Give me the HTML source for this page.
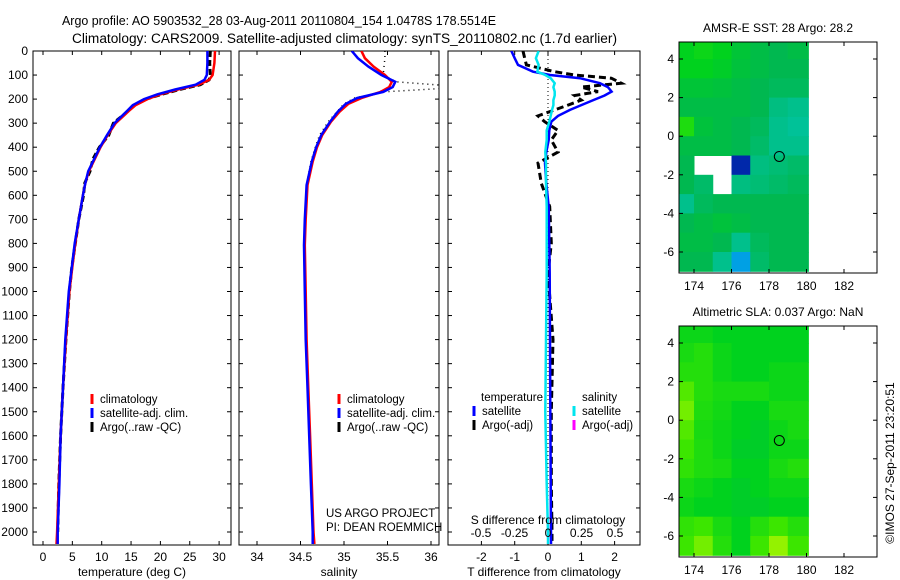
<!DOCTYPE html>
<html><head><meta charset="utf-8"><style>
body{margin:0;background:#fff;}
svg{display:block;font-family:"Liberation Sans",sans-serif;}
text{fill:#000;}
</style></head><body>
<svg id="chart" width="900" height="580" viewBox="0 0 900 580"></svg>
<script>
// ---- data ----
const depthTicks=[0,100,200,300,400,500,600,700,800,900,1000,1100,1200,1300,1400,1500,1600,1700,1800,1900,2000];
const tempTicks=[0,5,10,15,20,25,30];
const salTicks=[34,34.5,35,35.5,36];
const dtTicks=[-2,-1,0,1,2];
const dsTicks=[-0.5,-0.25,0,0.25,0.5];
const lonTicks=[174,176,178,180,182];
const latTicks=[4,2,0,-2,-4,-6];

const tDepth=[0,50,100,120,140,160,180,200,225,250,300,350,400,450,500,550,600,700,800,900,1000,1200,1400,1600,1800,2000,2050];
const tClim=[29.3,29.2,28.9,28.3,26.5,23,20,17.8,15.8,14.6,12.4,11.0,9.8,8.8,7.8,7.2,6.8,6.1,5.5,5.0,4.5,3.9,3.4,3.0,2.7,2.4,2.3];
const tSat=[28.0,28.0,27.9,27.5,26.0,22.5,19.5,17.2,15.3,14.3,12.2,10.9,9.7,8.7,7.7,7.2,6.8,6.1,5.4,4.9,4.4,3.8,3.4,3.0,2.8,2.5,2.5];
const tArgo=[28.5,28.4,28.5,28.3,26.8,23.3,20.2,17.6,15.6,14.5,12.0,11.2,9.6,8.5,8.0,7.1,6.9,6.1,5.5,4.9,4.5,3.9,3.4,3.0,2.7,2.5];

const sDepth=[0,30,65,100,128,150,170,196,220,252,294,349,400,460,557,700,807,1000,1200,1400,1600,1800,2000,2050];
const sClim=[35.2,35.24,35.34,35.47,35.55,35.52,35.42,35.2,35.05,34.95,34.85,34.75,34.69,34.64,34.58,34.56,34.55,34.56,34.57,34.59,34.61,34.63,34.65,34.66];
const sSat=[35.09,35.16,35.28,35.43,35.59,35.56,35.45,35.15,35.02,34.93,34.84,34.74,34.68,34.63,34.57,34.55,34.54,34.55,34.56,34.58,34.6,34.62,34.64,34.64];
const sArgo=[35.47,35.47,35.46,35.45,35.6,36.4,35.45,35.12,35.0,34.92,34.82,34.72,34.67,34.62,34.57,34.55,34.55,34.56,34.57,34.59,34.61,34.63,34.65];

const dDepth=[0,30,58,86,100,113,134,150,169,185,204,225,245,270,294,330,370,420,466,550,647,800,924,1200,1500,1800,2000,2050];
const dtSat=[-1.1,-1.0,-0.9,-0.45,0.06,0.96,1.56,1.8,1.91,1.7,1.36,1.0,0.66,0.3,0.1,0.04,0.02,-0.05,-0.09,-0.05,0.02,0.04,0.05,0.06,0.07,0.08,0.09,0.09];
const dsSat=[-0.07,-0.09,-0.07,-0.08,-0.02,0.02,0.05,0.04,0.05,0.05,0.04,0.04,0.03,0.02,0.01,-0.01,-0.01,-0.02,-0.015,-0.015,-0.01,-0.01,-0.01,-0.015,-0.02,-0.01,0.0,0.0];
const dtArgo=[-0.75,-0.7,-0.65,0.2,0.8,1.9,2.2,1.0,1.5,0.8,1.0,0.6,0.2,-0.3,-0.1,0.3,0.1,0.3,-0.3,-0.2,0.05,0.1,0.0,0.15,0.1,0.1,0.12,0.12];

const mapLons=[173,174,175,176,177,178,179];
const mapLats=[5,4,3,2,1,0,-1,-2,-3,-4,-5,-6];
const sstGrid=[
[0.8,0.82,0.8,0.75,0.72,0.7,0.72],
[0.8,0.8,0.78,0.74,0.72,0.7,0.7],
[0.75,0.75,0.74,0.72,0.7,0.68,0.68],
[0.72,0.72,0.72,0.72,0.7,0.62,0.6],
[0.85,0.74,0.72,0.7,0.68,0.6,0.58],
[0.72,0.72,0.72,0.7,0.66,0.6,0.6],
[0.7,null,null,0.1,0.62,0.64,0.66],
[0.7,0.66,null,0.62,0.64,0.66,0.68],
[0.6,0.68,0.7,0.7,0.7,0.7,0.7],
[0.7,0.72,0.74,0.72,0.7,0.7,0.7],
[0.72,0.72,0.7,0.6,0.68,0.7,0.7],
[0.7,0.7,0.6,0.4,0.66,0.7,0.7]];
const slaGrid=[
[0.82,0.82,0.8,0.8,0.8,0.8,0.8],
[0.84,0.86,0.82,0.8,0.8,0.8,0.8],
[0.86,0.86,0.82,0.8,0.8,0.82,0.82],
[0.92,0.86,0.84,0.84,0.84,0.82,0.82],
[0.95,0.85,0.83,0.8,0.8,0.84,0.84],
[0.92,0.84,0.82,0.8,0.78,0.82,0.84],
[0.9,0.85,0.82,0.78,0.78,0.82,0.82],
[0.88,0.85,0.84,0.8,0.8,0.84,0.86],
[0.84,0.82,0.8,0.78,0.8,0.82,0.82],
[0.82,0.8,0.8,0.78,0.78,0.8,0.8],
[0.88,0.9,0.84,0.8,0.86,0.9,0.86],
[0.9,0.95,0.86,0.8,0.9,0.98,0.9]];
const floatLon=178.55, floatLat=-1.05;

// ---- scales ----
const NS='http://www.w3.org/2000/svg';
const svg=document.getElementById('chart');
const yD=d=>51+d*0.2405;
const xT=t=>43+t*5.87;
const xS=s=>257+(s-34)*87;
const xDT=t=>548+t*33.3;
const xDS=s=>548+s*134;
const xLon=l=>694+(l-174)*18.75;
const yLat1=l=>59+(4-l)*19.3;
const yLat2=l=>343+(4-l)*19.3;

function el(tag,attrs,parent){const e=document.createElementNS(NS,tag);for(const k in attrs)e.setAttribute(k,attrs[k]);(parent||svg).appendChild(e);return e;}
function txt(x,y,s,anchor,size,parent){const t=el('text',{x:x,y:y,'font-size':size||12,'text-anchor':anchor||'start'},parent);t.textContent=s;return t;}

const defs=el('defs',{});
function clip(id,x,y,w,h){const c=el('clipPath',{id:id},defs);el('rect',{x:x,y:y,width:w,height:h},c);}
clip('c1',33,51,198,494);clip('c2',239,51,200,494);clip('c3',448,51,192,494);
clip('m1',679,42,130,231);clip('m2',679,326,130,231);

let t;
t=txt(62,25,'Argo profile: AO 5903532_28 03-Aug-2011 20110804_154 1.0478S 178.5514E','start',13);
t.setAttribute('textLength','434');t.setAttribute('lengthAdjust','spacingAndGlyphs');

t=txt(72,43,'Climatology: CARS2009. Satellite-adjusted climatology: synTS_20110802.nc (1.7d earlier)','start',13.5);
t.setAttribute('textLength','545');t.setAttribute('lengthAdjust','spacingAndGlyphs');


function line(xs,ys,color,w,dash,clipId,name){
  let d='';for(let i=0;i<xs.length;i++)d+=(i?'L':'M')+xs[i].toFixed(1)+' '+ys[i].toFixed(1);
  const p=el('path',{d:d,fill:'none',stroke:color,'stroke-width':w,'clip-path':'url(#'+clipId+')'});
  if(dash)p.setAttribute('stroke-dasharray',dash);
  
  
  return p;
}

function panel(x0,x1,name,xTicks,xf,xlabelText,yLabels){
  const g=el('g',{});
  
  
  el('rect',{x:x0,y:51,width:x1-x0,height:494,fill:'none',stroke:'#000','stroke-width':1},g);
  depthTicks.forEach(d=>{const y=yD(d);
    el('line',{x1:x0,x2:x0+4,y1:y,y2:y,stroke:'#000'},g);el('line',{x1:x1-4,x2:x1,y1:y,y2:y,stroke:'#000'},g);
    if(yLabels){txt(28,y+4,String(d),'end',12,g);}});
  xTicks.forEach(v=>{const x=xf(v);
    el('line',{x1:x,x2:x,y1:545,y2:541,stroke:'#000'},g);el('line',{x1:x,x2:x,y1:51,y2:55,stroke:'#000'},g);
    txt(x,561,String(v),'middle',12,g);});
  const xl=txt((x0+x1)/2,576,xlabelText,'middle',12,g);
  
  return g;
}
panel(33,231,'temperature-panel',tempTicks,xT,'temperature (deg C)',true);
panel(239,439,'salinity-panel',salTicks,xS,'salinity',false);
panel(448,640,'difference-panel',dtTicks,xDT,'T difference from climatology',false);

line(tArgo.map(xT),tDepth.slice(0,tArgo.length).map(yD),'#000',3,'6 3','c1','argo-temperature-line');
line(tClim.map(xT),tDepth.map(yD),'#f00',2.5,null,'c1','climatology-temperature-line');
line(tSat.map(xT),tDepth.map(yD),'#00f',2.5,null,'c1','satellite-temperature-line');
line(sArgo.map(xS),sDepth.slice(0,sArgo.length).map(yD),'#000',1.5,'1 4','c2','argo-salinity-line');
line(sClim.map(xS),sDepth.map(yD),'#f00',2.5,null,'c2','climatology-salinity-line');
line(sSat.map(xS),sDepth.map(yD),'#00f',2.5,null,'c2','satellite-salinity-line');
line([xDT(0),xDT(0)],[yD(0),yD(2050)],'#000',1,'1 3','c3','zero-reference-line');
line(dtArgo.map(xDT),dDepth.map(yD),'#000',3,'7 4','c3','argo-t-difference-line');
line(dtSat.map(xDT),dDepth.map(yD),'#00f',2.5,null,'c3','satellite-t-difference-line');
line(dsSat.map(xDS),dDepth.map(yD),'#00e5ee',2.5,null,'c3','satellite-s-difference-line');

dsTicks.forEach(v=>{txt(xDS(v),537,String(v),'middle',12);});
t=txt(548,524,'S difference from climatology','middle',12);


function legendEntry(mx,ty,color,label,name){
  const g=el('g',{});
  
  
  el('line',{x1:mx,x2:mx,y1:ty-9,y2:ty+1,stroke:color,'stroke-width':3},g);
  txt(mx+8,ty,label,'start',11.5,g);
}
legendEntry(92,403,'#f00','climatology','legend-climatology');
legendEntry(92,417,'#00f','satellite-adj. clim.','legend-satellite-adj');
legendEntry(92,431,'#000','Argo(..raw -QC)','legend-argo');
legendEntry(339,403,'#f00','climatology','legend-climatology-sal');
legendEntry(339,417,'#00f','satellite-adj. clim.','legend-satellite-adj-sal');
legendEntry(339,431,'#000','Argo(..raw -QC)','legend-argo-sal');
txt(481,401,'temperature','start',11.5);
txt(582,401,'salinity','start',11.5);
legendEntry(474,415,'#00f','satellite','legend-t-satellite');
legendEntry(474,429,'#000','Argo(-adj)','legend-t-argo');
legendEntry(574,415,'#00e5ee','satellite','legend-s-satellite');
legendEntry(574,429,'#f0f','Argo(-adj)','legend-s-argo');
txt(326,517,'US ARGO PROJECT','start',11.5);
txt(326,531,'PI: DEAN ROEMMICH','start',11.5);

function cmap(v){
  const st=[[0,[0,0,128]],[0.3,[0,120,255]],[0.5,[0,200,200]],[0.6,[0,192,140]],[0.7,[0,184,80]],[0.8,[0,210,30]],[0.9,[60,230,0]],[1,[170,245,0]]];
  for(let i=1;i<st.length;i++){if(v<=st[i][0]){const a=st[i-1],b=st[i],f=(v-a[0])/(b[0]-a[0]);
    return 'rgb('+a[1].map((c,k)=>Math.round(c+(b[1][k]-c)*f)).join(',')+')';}}
  return 'rgb(170,245,0)';
}
function drawMap(top,yLat,grid,clipId,name,title){
  const g=el('g',{});
  
  
  const cg=el('g',{'clip-path':'url(#'+clipId+')'},g);
  grid.forEach((row,i)=>row.forEach((v,j)=>{
    if(v===null)return;
    const lon=mapLons[j],lat=mapLats[i];
    const lonEnd=(j===mapLons.length-1)?180.1:lon+1;
    const x0=xLon(lon),x1=xLon(lonEnd),y0=yLat(lat),y1=yLat(lat-1);
    const r=el('rect',{x:x0,y:y0,width:x1-x0+0.5,height:y1-y0+0.5,fill:cmap(v)},cg);
    
    
  }));
  el('circle',{cx:xLon(floatLon),cy:yLat(floatLat),r:5,fill:'none',stroke:'#000','stroke-width':1},g);
  el('rect',{x:679,y:top,width:198,height:231,fill:'none',stroke:'#000'},g);
  lonTicks.forEach(l=>{const x=xLon(l);
    el('line',{x1:x,x2:x,y1:top,y2:top+4,stroke:'#000'},g);el('line',{x1:x,x2:x,y1:top+231,y2:top+227,stroke:'#000'},g);
    txt(x,top+248,String(l),'middle',12,g);});
  latTicks.forEach(l=>{const y=yLat(l);
    el('line',{x1:679,x2:683,y1:y,y2:y,stroke:'#000'},g);el('line',{x1:873,x2:877,y1:y,y2:y,stroke:'#000'},g);
    txt(674,y+4,String(l),'end',12,g);});
  const tt=txt(778,top-10,title,'middle',12,g);
  
}
drawMap(42,yLat1,sstGrid,'m1','sst-map','AMSR-E SST: 28 Argo: 28.2');
drawMap(326,yLat2,slaGrid,'m2','sla-map','Altimetric SLA: 0.037 Argo: NaN');

t=txt(0,0,'©IMOS 27-Sep-2011 23:20:51','middle',12);
t.setAttribute('transform','translate(894,463) rotate(-90)');

</script>
</body></html>
